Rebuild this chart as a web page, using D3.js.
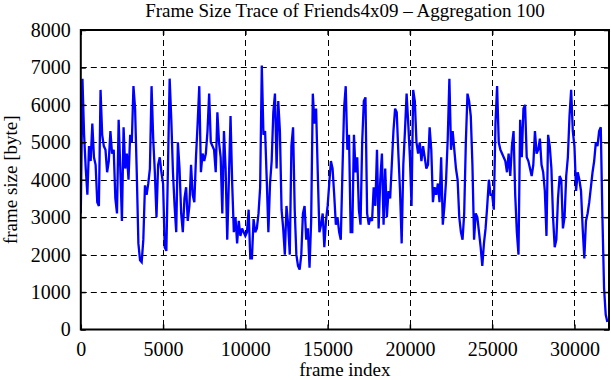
<!DOCTYPE html>
<html>
<head>
<meta charset="utf-8">
<script src="https://cdn.jsdelivr.net/npm/d3@7"></script>
<style>
  html, body { margin: 0; padding: 0; background: #fff; }
  svg { display: block; }
  text { font-family: "Liberation Serif", "Times New Roman", serif; fill: #000; }
</style>
</head>
<body>
<svg id="chart" width="611" height="380"></svg>
<script>
// ---- data ----
const titleText = "Frame Size Trace of Friends4x09 \u2013 Aggregation 100";
const xLabel = "frame index";
const yLabel = "frame size [byte]";
const aggregation = 100;
const xTicks = [0, 5000, 10000, 15000, 20000, 25000, 30000];
const yTicks = [0, 1000, 2000, 3000, 4000, 5000, 6000, 7000, 8000];
const xMax = 32100;
const yMax = 8000;
// frame size per aggregated window of 100 frames (window k starts at frame k*100)
const frameSizes = [
  3100, 6700, 5200, 4300, 3600, 4900, 4500, 5500, 4600, 4400,
  3400, 3300, 6400, 5200, 4900, 4800, 4200, 4500, 5300, 4700,
  4800, 3500, 3100, 5600, 4300, 2900, 5400, 4300, 4700, 4000,
  5200, 5000, 6500, 5900, 4200, 2300, 1850, 1800, 2400, 3850,
  3600, 3900, 4300, 6500, 5100, 4200, 3000, 4400, 4600, 4200,
  3900, 2200, 2100, 4400, 6700, 5600, 4200, 3300, 2600, 5000,
  4300, 3100, 2600, 3500, 3800, 2900, 3300, 4400, 3600, 3400,
  4600, 5500, 6500, 4200, 4700, 4500, 4700, 5300, 6300, 5000,
  4900, 4800, 4200, 5800, 5000, 4600, 3100, 5300, 4300, 2400,
  4000, 5700, 3900, 2600, 3000, 2300, 2900, 2500, 2700, 2600,
  2500, 2600, 3200, 1900, 1900, 2950, 2600, 2700, 3100, 3800,
  7050, 5200, 5300, 4000, 2600, 3900, 4500, 5800, 6300, 4300,
  6100, 5300, 3200, 2700, 2000, 3300, 2800, 2000, 4900, 5400,
  3200, 2000, 1700, 1600, 2000, 3100, 3300, 2400, 2700, 1650,
  2900, 6300, 5500, 5900, 4200, 2600, 2800, 3100, 2200, 2900,
  3300, 3900, 4500, 4300, 3600, 2800, 3000, 2600, 2400, 4200,
  5900, 6500, 4800, 5200, 2600, 2600, 5200, 4200, 4600, 3200,
  2800, 5000, 6100, 6200, 3100, 2800, 3000, 2900, 3800, 3300,
  4800, 2700, 4000, 4700, 2800, 4300, 3000, 3700, 3500, 4400,
  5300, 5900, 5800, 4700, 3700, 2300, 4400, 5300, 6300, 5500,
  4600, 3300, 6400, 6100, 5000, 4700, 5000, 4500, 4900, 4600,
  4300, 4400, 5400, 4800, 3400, 3800, 3600, 3900, 3400, 4600,
  2800, 3300, 4000, 5100, 6700, 4800, 5300, 4800, 4300, 4000,
  3000, 2600, 2400, 3100, 5000, 6300, 6100, 5700, 4400, 2400,
  3100, 3000, 2600, 2200, 1700, 2300, 2700, 3300, 4000, 3600,
  3600, 3200, 5500, 6500, 5000, 4800, 4700, 4600, 4500, 4200,
  4700, 4100, 4900, 5300, 3600, 2600, 2000, 5600, 4600, 5900,
  6000, 4600, 4500, 4300, 4100, 4400, 5300, 4700, 4800, 5100,
  4400, 4200, 3700, 2500, 5200, 4900, 4300, 3000, 2200, 2400,
  3500, 4100, 4000, 2700, 3000, 4100, 4600, 5700, 6400, 5300,
  4900, 3700, 4200, 4000, 3700, 2700, 1900, 2900, 3100, 3400,
  3800, 4200, 4500, 5000, 4900, 5300, 5400, 3000, 1100, 400,
  200
];
const frameIndex = frameSizes.map((_, i) => i * aggregation);

// ---- layout ----
const W = 611, H = 380;
const margin = { left: 80.8, right: 2, top: 30, bottom: 50.5 };
const svg = d3.select("#chart");
const x = d3.scaleLinear().domain([0, xMax]).range([margin.left, W - margin.right]);
const y = d3.scaleLinear().domain([0, yMax]).range([H - margin.bottom, margin.top]);
const x0 = x.range()[0], x1 = x.range()[1], y0 = y.range()[0], y1 = y.range()[1];
const FS = 20, LFS = 19;

// grid
const grid = svg.append("g").attr("stroke", "#000").attr("stroke-width", 1)
  .attr("stroke-dasharray", "6,4").attr("fill", "none");
xTicks.filter(t => t > 0).forEach(t => {
  grid.append("line").attr("x1", Math.round(x(t)) + 0.5).attr("x2", Math.round(x(t)) + 0.5)
    .attr("y1", y1).attr("y2", y0);
});
yTicks.filter(t => t > 0 && t < yMax).forEach(t => {
  grid.append("line").attr("y1", Math.round(y(t)) + 0.5).attr("y2", Math.round(y(t)) + 0.5)
    .attr("x1", x0).attr("x2", x1);
});

// data line
svg.append("clipPath").attr("id", "clip").append("rect")
  .attr("x", x0).attr("y", y1).attr("width", x1 - x0).attr("height", y0 - y1);
const line = d3.line().x((d, i) => x(frameIndex[i])).y(d => y(d));
svg.append("path").datum(frameSizes)
  .attr("clip-path", "url(#clip)")
  .attr("fill", "none").attr("stroke", "#0000ff").attr("stroke-width", 2.3)
  .attr("stroke-linejoin", "miter").attr("stroke-miterlimit", 3)
  .attr("d", line);

// axes (ticks inward, mirrored)
const fmt = d3.format("d");
const axB = svg.append("g").attr("transform", `translate(0,${y0})`)
  .call(d3.axisBottom(x).tickValues(xTicks).tickFormat(fmt).tickSizeInner(-5).tickSizeOuter(0).tickPadding(12));
const axL = svg.append("g").attr("transform", `translate(${x0},0)`)
  .call(d3.axisLeft(y).tickValues(yTicks).tickFormat(fmt).tickSizeInner(-5).tickSizeOuter(0).tickPadding(10));
const axT = svg.append("g").attr("transform", `translate(0,${y1})`)
  .call(d3.axisTop(x).tickValues(xTicks).tickFormat("").tickSizeInner(-5).tickSizeOuter(0));
const axR = svg.append("g").attr("transform", `translate(${x1},0)`)
  .call(d3.axisRight(y).tickValues(yTicks).tickFormat("").tickSizeInner(-5).tickSizeOuter(0));
[axB, axL, axT, axR].forEach(g => {
  g.select(".domain").remove();
  g.selectAll(".tick line").attr("stroke", "#000").attr("stroke-width", 1.5);
  g.selectAll("text").attr("font-family", "Liberation Serif, serif").attr("font-size", FS).attr("fill", "#000");
});

// frame
svg.append("rect").attr("x", x0).attr("y", y1).attr("width", x1 - x0).attr("height", y0 - y1)
  .attr("fill", "none").attr("stroke", "#000").attr("stroke-width", 2);

// labels
svg.append("text").attr("x", (x0 + x1) / 2).attr("y", 17).attr("text-anchor", "middle")
  .attr("font-size", LFS).text(titleText);
svg.append("text").attr("x", (x0 + x1) / 2).attr("y", 376).attr("text-anchor", "middle")
  .attr("font-size", LFS).text(xLabel);
svg.append("text").attr("transform", `translate(17,${(y0 + y1) / 2}) rotate(-90)`)
  .attr("text-anchor", "middle").attr("font-size", LFS).text(yLabel);
</script>
</body>
</html>
